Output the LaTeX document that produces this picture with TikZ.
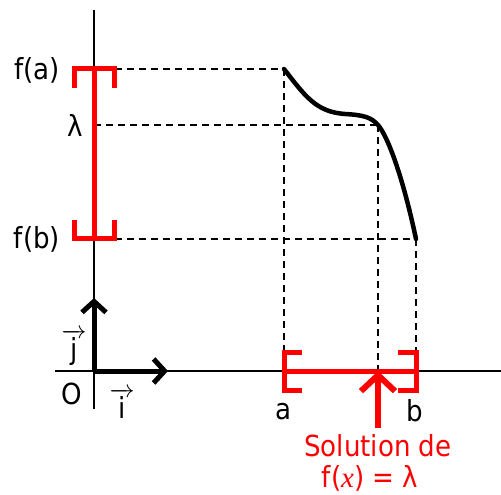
\documentclass[tikz,border=0pt]{standalone}
\usepackage{fontspec}
\setmainfont{DejaVu Sans Condensed}
\newfontfamily\mathserif{Liberation Serif}
\usetikzlibrary{arrows.meta}
\begin{document}
\begin{tikzpicture}[x=1pt,y=-1pt,
  lbl/.style={inner sep=0pt,font=\fontsize{29}{32}\selectfont},
  axis/.style={line width=2pt},
  guide/.style={line width=2.2pt,dash pattern=on 7pt off 5pt},
  redl/.style={red,line width=5pt},
  vecarrow/.style={line width=5pt,-{Straight Barb[length=11pt,width=24pt,line width=5pt]}},
  curve/.style={line width=4.5pt,line cap=round}]
\useasboundingbox (0,0) rectangle (501,495);
% points
\coordinate (O) at (94,371);
\coordinate (ytop) at (94,10);
\coordinate (ybot) at (94,409);
\coordinate (xl) at (55,371);
\coordinate (xr) at (501,371);
\coordinate (A) at (284,69);
\coordinate (P) at (345,114);
\coordinate (L) at (378,125);
\coordinate (B) at (416,239);
\coordinate (fa) at (94,69);
\coordinate (la) at (94,125);
\coordinate (fb) at (94,239);
\coordinate (faR) at (115,69);
\coordinate (fbR) at (115,239);
\coordinate (aX) at (284,352);
\coordinate (lX) at (378,371);
\coordinate (bX) at (416,352);
\coordinate (jtip) at (94,298);
\coordinate (itip) at (168,371);
\coordinate (rbase) at (378,428);
% axes
\draw[axis] (ytop) -- (ybot);
\draw[axis] (xl) -- (xr);
% dashed guides
\draw[guide] (faR) -- (A);
\draw[guide] (la) -- (L);
\draw[guide] (fbR) -- (B);
\draw[guide] (A) -- (aX);
\draw[guide] (L) -- (lX);
\draw[guide] (B) -- (bX);
% curve
\draw[curve] (A) .. controls (305,96) and (316,112) .. (P)
  .. controls (363,115) and (371,117) .. (L)
  .. controls (389,138) and (404,182) .. (B);
% red brackets on y axis
\draw[redl] (74,88) -- (74,69) -- (114,69) -- (114,88);
\draw[redl] (74,220) -- (74,238) -- (114,238) -- (114,220);
\draw[redl] (fa) -- (fb);
% red brackets on x axis
\draw[redl] (302,352) -- (284,352) -- (284,390) -- (302,390);
\draw[redl] (398,352) -- (416,352) -- (416,390) -- (398,390);
\draw[redl] (284,371) -- (416,371);
% red arrow
\draw[red,line width=6pt,-{Straight Barb[length=16pt,width=34pt,line width=6pt]}] (rbase) -- (lX);
% unit vectors
\draw[vecarrow] (O) -- (jtip);
\draw[vecarrow] (O) -- (itip);
% labels
\node[lbl] (tfa) at (37,70) {f(a)};
\node[lbl] (tla) at (75,125) {λ};
\node[lbl] (tfb) at (37,239) {f(b)};
\node[lbl] (tO) at (72,394) {O};
\node[lbl] (tj) at (74,347) {$\overrightarrow{\mbox{j}}$};
\node[lbl] (ti) at (122,403) {$\overrightarrow{\mbox{i}}$};
\node[lbl] (ta) at (283,412) {a};
\node[lbl] (tb) at (415,411) {b};
\node[lbl,red] (tsol) at (378,446) {Solution de};
\node[lbl,red] (teq) at (370,478) {f({\mathserif\itshape x}) = λ};
\end{tikzpicture}
\end{document}
